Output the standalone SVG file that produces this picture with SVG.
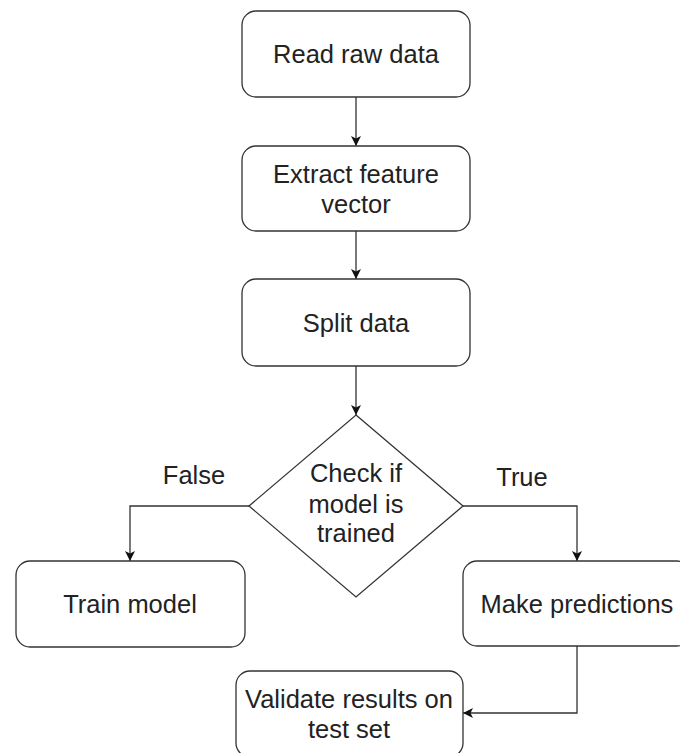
<svg xmlns="http://www.w3.org/2000/svg" width="680" height="753" viewBox="0 0 680 753">
<style>
.node{fill:#ffffff;stroke:#333333;stroke-width:1.3}
.lbl{font-family:"Liberation Sans",Arial,sans-serif;font-size:25.5px;fill:#222222;text-anchor:middle}
.edge{fill:none;stroke:#333333;stroke-width:1.3}
</style>
<defs>
<marker id="arr" viewBox="0 0 10 10" refX="10" refY="5" markerWidth="10" markerHeight="10" markerUnits="userSpaceOnUse" orient="auto">
<path d="M0,0 L10,5 L0,10 L2.5,5 Z" fill="#111111"/>
</marker>
</defs>
<rect width="680" height="753" fill="#ffffff"/>
<g id="connectors">
<path class="edge" d="M356,97 L356,146" marker-end="url(#arr)"/>
<path class="edge" d="M356,231 L356,279" marker-end="url(#arr)"/>
<path class="edge" d="M356,366 L356,415" marker-end="url(#arr)"/>
<path class="edge" d="M249,506 L130,506 L130,561" marker-end="url(#arr)"/>
<path class="edge" d="M463,506 L577,506 L577,561" marker-end="url(#arr)"/>
<path class="edge" d="M577,646 L577,713 L463,713" marker-end="url(#arr)"/>
<text class="lbl" x="194" y="484">False</text>
<text class="lbl" x="522" y="486">True</text>
</g>
<g id="read">
<rect class="node" x="242" y="11" width="228" height="86" rx="14"/>
<text class="lbl" x="356" y="63">Read raw data</text>
</g>
<g id="extract">
<rect class="node" x="242" y="146" width="228" height="85" rx="14"/>
<text class="lbl" x="356" y="183">Extract feature</text>
<text class="lbl" x="356" y="213">vector</text>
</g>
<g id="split">
<rect class="node" x="242" y="279" width="228" height="87" rx="14"/>
<text class="lbl" x="356" y="332">Split data</text>
</g>
<g id="check">
<polygon class="node" points="356,415 463,506 356,597 249,506"/>
<text class="lbl" x="356" y="482">Check if</text>
<text class="lbl" x="356" y="513">model is</text>
<text class="lbl" x="356" y="542">trained</text>
</g>
<g id="train">
<rect class="node" x="16" y="561" width="229" height="86" rx="14"/>
<text class="lbl" x="130" y="613">Train model</text>
</g>
<g id="predict">
<rect class="node" x="463" y="561" width="228" height="85" rx="14"/>
<text class="lbl" x="577" y="613">Make predictions</text>
</g>
<g id="validate">
<rect class="node" x="236" y="671" width="227" height="86" rx="14"/>
<text class="lbl" x="349" y="708">Validate results on</text>
<text class="lbl" x="349" y="738">test set</text>
</g>
</svg>
